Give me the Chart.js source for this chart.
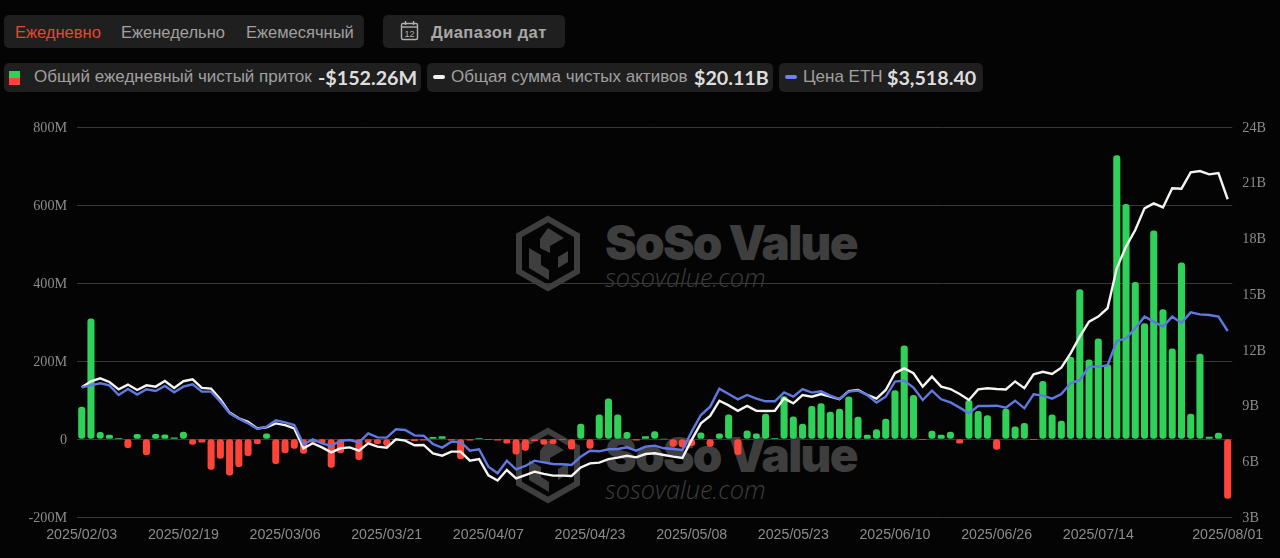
<!DOCTYPE html>
<html lang="ru">
<head>
<meta charset="utf-8">
<title>ETH ETF</title>
<script src="https://cdn.jsdelivr.net/npm/chart.js@4"></script>
<style>
    html, body { margin: 0; padding: 0; background: #040404; }
    body { position: relative; width: 1280px; height: 558px; overflow: hidden; font-family: "Liberation Sans", sans-serif; }
    .abs { position: absolute; white-space: nowrap; }
    .pill { position: absolute; background: #1f1f1f; border-radius: 5px; }
    .txt { position: absolute; white-space: nowrap; font-size: 16.5px; color: #a0a0a0; line-height: 18px; }
    .leg { font-size: 17px; }
    .val { position: absolute; white-space: nowrap; font-family: Lato, sans-serif; font-size: 19.7px; font-weight: 700; color: #dedede; line-height: 24px; }
    .dash { position: absolute; width: 12px; height: 4px; border-radius: 2px; }
    .mark { position: absolute; left: 0; top: 0; z-index: 0; }
    .brand { position: absolute; white-space: nowrap; font-family: Inter, sans-serif; font-weight: 900; font-size: 47.5px; letter-spacing: -1.7px; color: #3e3e3e; line-height: 50px; }
    .site { position: absolute; white-space: nowrap; font-family: "Open Sans", sans-serif; font-style: italic; font-weight: 300; font-size: 25.3px; color: #3e3e3e; line-height: 28px; }
    canvas { position: absolute; left: 0; top: 0; z-index: 1; }
</style>
</head>
<body>

<div class="pill" style="left:4px;top:15px;width:360px;height:33px"></div>
<span class="txt" style="left:15px;top:23px;color:#e5482b">Ежедневно</span>
<span class="txt" style="left:121px;top:23px">Еженедельно</span>
<span class="txt" style="left:246px;top:23px">Ежемесячный</span>

<div class="pill" style="left:383px;top:15px;width:182px;height:33px"></div>
<svg class="abs" style="left:400px;top:20px" width="20" height="22" viewBox="0 0 20 22">
    <rect x="1.5" y="3.5" width="16" height="16" rx="1.5" fill="none" stroke="#b0b0b0" stroke-width="1.4"/>
    <line x1="1.5" y1="7" x2="17.5" y2="7" stroke="#b0b0b0" stroke-width="1.4"/>
    <line x1="5.5" y1="1" x2="5.5" y2="5" stroke="#b0b0b0" stroke-width="1.4"/>
    <line x1="13.5" y1="1" x2="13.5" y2="5" stroke="#b0b0b0" stroke-width="1.4"/>
    <text x="9.5" y="17" font-size="9" text-anchor="middle" fill="#b0b0b0" font-family="Liberation Sans">12</text>
</svg>
<span class="txt" style="left:431px;top:23px;font-weight:700;letter-spacing:.43px;color:#a8a8a8">Диапазон дат</span>

<div class="pill" style="left:4px;top:63px;width:417px;height:29px"></div>
<div class="abs" style="left:9px;top:71px;width:11px;height:7px;background:#30d158"></div>
<div class="abs" style="left:9px;top:78px;width:11px;height:7px;background:#ff453a"></div>
<span class="txt leg" style="left:34px;top:68px">Общий ежедневный чистый приток</span>
<span class="val" style="left:318px;top:66px">-$152.26M</span>

<div class="pill" style="left:427px;top:63px;width:346px;height:29px"></div>
<div class="dash" style="left:433px;top:75px;background:#f2f2f2"></div>
<span class="txt leg" style="left:451px;top:68px">Общая сумма чистых активов</span>
<span class="val" style="left:694px;top:66px">$20.11B</span>

<div class="pill" style="left:779px;top:63px;width:204px;height:29px"></div>
<div class="dash" style="left:785px;top:75px;background:#6b83ee"></div>
<span class="txt leg" style="left:803px;top:68px">Цена ETH</span>
<span class="val" style="left:887px;top:66px">$3,518.40</span>

<!-- watermark sits under the chart -->
<svg class="mark" style="left:514px;top:215px" width="68" height="78" viewBox="0 0 68 78">
    <path d="M34 4 L63 20.5 L63 56.5 L34 73 L5 56.5 L5 20.5 Z" fill="none" stroke="#3e3e3e" stroke-width="6"/>
    <path d="M34 13 L50 23 L36 31 L36 38 L26 33 L26 24 Z M15 33 L27 40 L27 50 L35 55 L35 65 L15 53 Z M44 42 L54 36 L54 47 L44 53 Z" fill="#3e3e3e"/>
</svg>
<span class="brand" style="left:605px;top:218px">SoSo Value</span>
<span class="site" style="left:605px;top:263px">sosovalue.com</span>
<svg class="mark" style="left:514px;top:427px" width="68" height="78" viewBox="0 0 68 78">
    <path d="M34 4 L63 20.5 L63 56.5 L34 73 L5 56.5 L5 20.5 Z" fill="none" stroke="#3e3e3e" stroke-width="6"/>
    <path d="M34 13 L50 23 L36 31 L36 38 L26 33 L26 24 Z M15 33 L27 40 L27 50 L35 55 L35 65 L15 53 Z M44 42 L54 36 L54 47 L44 53 Z" fill="#3e3e3e"/>
</svg>
<span class="brand" style="left:605px;top:430px">SoSo Value</span>
<span class="site" style="left:605px;top:475px">sosovalue.com</span>

<canvas id="flowChart" width="1280" height="558"></canvas>

<script>
// Trading days shown on the x axis
const dates = [
    '2025/02/03','2025/02/04','2025/02/05','2025/02/06','2025/02/07','2025/02/10','2025/02/11','2025/02/12','2025/02/13','2025/02/14',
    '2025/02/18','2025/02/19','2025/02/20','2025/02/21','2025/02/24','2025/02/25','2025/02/26','2025/02/27','2025/02/28','2025/03/03',
    '2025/03/04','2025/03/05','2025/03/06','2025/03/07','2025/03/10','2025/03/11','2025/03/12','2025/03/13','2025/03/14','2025/03/17',
    '2025/03/18','2025/03/19','2025/03/20','2025/03/21','2025/03/24','2025/03/25','2025/03/26','2025/03/27','2025/03/28','2025/03/31',
    '2025/04/01','2025/04/02','2025/04/03','2025/04/04','2025/04/07','2025/04/08','2025/04/09','2025/04/10','2025/04/11','2025/04/14',
    '2025/04/15','2025/04/16','2025/04/17','2025/04/21','2025/04/22','2025/04/23','2025/04/24','2025/04/25','2025/04/28','2025/04/29',
    '2025/04/30','2025/05/01','2025/05/02','2025/05/05','2025/05/06','2025/05/07','2025/05/08','2025/05/09','2025/05/12','2025/05/13',
    '2025/05/14','2025/05/15','2025/05/16','2025/05/19','2025/05/20','2025/05/21','2025/05/22','2025/05/23','2025/05/27','2025/05/28',
    '2025/05/29','2025/05/30','2025/06/02','2025/06/03','2025/06/04','2025/06/05','2025/06/06','2025/06/09','2025/06/10','2025/06/11',
    '2025/06/12','2025/06/13','2025/06/16','2025/06/17','2025/06/18','2025/06/20','2025/06/23','2025/06/24','2025/06/25','2025/06/26',
    '2025/06/27','2025/06/30','2025/07/01','2025/07/02','2025/07/03','2025/07/07','2025/07/08','2025/07/09','2025/07/10','2025/07/11',
    '2025/07/14','2025/07/15','2025/07/16','2025/07/17','2025/07/18','2025/07/21','2025/07/22','2025/07/23','2025/07/24','2025/07/25',
    '2025/07/28','2025/07/29','2025/07/30','2025/07/31','2025/08/01'
];

const tickDates = ['2025/02/03','2025/02/19','2025/03/06','2025/03/21','2025/04/07','2025/04/23','2025/05/08',
    '2025/05/23','2025/06/10','2025/06/26','2025/07/14','2025/08/01'];

// Daily net inflow, $M
const netInflow = [
    82,308,17,10,1,-22,12,-41,12,11,
    3,18,-14,-8,-78,-50,-93,-71,-43,-12,
    13,-63,-36,-24,-37,-8,-10,-73,-36,-3,
    -53,-9,-12,-17,-1,-2,-4,-3,4,6,
    -3,-51,-3,2,-1,-3,-11,-39,-29,-4,
    -14,-12,-2,-26,38,-24,62,103,62,17,
    -3,6,19,0,-19,-21,-17,16,-19,13,
    62,-40,21,13,64,1,109,57,38,84,
    91,69,77,108,56,10,24,51,124,239,
    112,-2,20,10,18,-11,99,71,60,-27,
    77,31,40,-1,148,62,46,210,383,203,
    257,191,727,602,402,296,534,332,231,452,
    64,218,5,15,-152.26
];

// Total net assets, $B
const totalAssets = [
    9.98,10.31,10.47,10.27,9.87,10.13,9.84,10.09,10.02,10.32,
    9.95,10.31,10.41,9.95,9.91,9.34,8.62,8.31,8.13,7.77,
    7.83,8.04,7.95,7.77,6.70,6.97,6.75,6.48,6.70,6.75,
    6.57,6.97,6.79,6.73,7.18,7.11,6.86,6.88,6.43,6.30,
    6.52,6.52,6.03,6.12,5.24,4.96,5.53,5.08,5.26,5.44,
    5.32,5.23,5.23,5.21,5.67,5.89,5.93,6.12,6.20,6.30,
    6.21,6.39,6.43,6.34,6.25,6.18,7.15,8.04,8.44,9.26,
    9.01,8.72,8.98,8.72,8.71,8.72,9.39,9.12,9.57,9.48,
    9.62,9.48,9.34,9.78,9.84,9.57,9.37,9.84,10.74,11.00,
    10.74,10.02,10.56,10.02,9.89,9.62,9.30,9.87,9.93,9.89,
    9.87,10.30,9.94,10.68,10.82,10.70,11.04,11.81,12.71,13.52,
    13.79,14.24,16.39,17.56,18.45,19.62,19.89,19.67,20.70,20.68,
    21.56,21.63,21.45,21.52,20.11
];

// ETH price, $
const ethPrice = [
    2707,2736,2765,2736,2597,2683,2602,2679,2655,2727,
    2635,2717,2751,2645,2645,2501,2333,2256,2189,2107,
    2141,2232,2203,2165,1887,1959,1901,1863,1939,1949,
    1915,2045,1987,1983,2103,2093,2016,2011,1891,1839,
    1925,1920,1795,1815,1565,1469,1651,1527,1575,1651,
    1627,1603,1599,1589,1709,1795,1786,1815,1819,1843,
    1795,1853,1867,1829,1819,1805,2069,2309,2429,2688,
    2611,2535,2597,2544,2506,2506,2635,2573,2683,2631,
    2650,2587,2539,2645,2659,2597,2487,2573,2789,2803,
    2703,2525,2659,2535,2491,2415,2333,2439,2439,2443,
    2415,2515,2405,2607,2587,2544,2611,2765,2813,3005,
    3005,3024,3375,3413,3557,3725,3653,3581,3725,3634,
    3787,3758,3749,3725,3518.4
];

const axisGrey = '#8c8c8c';
const gridGrey = '#383838';

new Chart(document.getElementById('flowChart').getContext('2d'), {
    type: 'bar',
    data: {
        labels: dates,
        datasets: [
            {
                label: 'Общий ежедневный чистый приток',
                data: netInflow,
                yAxisID: 'y',
                order: 3,
                barThickness: 6.4,
                borderRadius: 3,
                borderSkipped: false,
                backgroundColor: ctx => ctx.raw < 0 ? '#ff453a' : '#30d158'
            },
            {
                type: 'line',
                label: 'Общая сумма чистых активов',
                data: totalAssets,
                yAxisID: 'assets',
                order: 2,
                borderColor: '#f4f4f0',
                borderWidth: 2.4,
                pointRadius: 0,
                tension: 0
            },
            {
                type: 'line',
                label: 'Цена ETH',
                data: ethPrice,
                yAxisID: 'price',
                order: 1,
                borderColor: '#6079e2',
                borderWidth: 2.4,
                pointRadius: 0,
                tension: 0
            }
        ]
    },
    options: {
        responsive: false,
        animation: false,
        layout: { padding: { top: 127, left: 0, right: 0, bottom: 0 } },
        plugins: { legend: { display: false }, tooltip: { enabled: false } },
        scales: {
            x: {
                grid: { display: false, drawTicks: false },
                border: { display: false },
                afterFit: scale => { scale.height = 41; },
                ticks: {
                    autoSkip: false,
                    maxRotation: 0,
                    padding: 10,
                    color: axisGrey,
                    font: { family: 'Liberation Sans', size: 14.2 },
                    callback: function(value) {
                        const label = this.getLabelForValue(value);
                        return tickDates.includes(label) ? label : '';
                    }
                }
            },
            y: {
                position: 'left',
                min: -200,
                max: 800,
                afterFit: scale => { scale.width = 77.1; },
                grid: { color: gridGrey, lineWidth: 1, drawTicks: false },
                border: { display: false },
                ticks: {
                    stepSize: 200,
                    padding: 10,
                    labelOffset: 1,
                    color: axisGrey,
                    font: { family: 'Liberation Serif', size: 14.2 },
                    callback: value => value === 0 ? '0' : value + 'M'
                }
            },
            assets: {
                position: 'right',
                min: 3,
                max: 24,
                afterFit: scale => { scale.width = 47.7; },
                grid: { display: false, drawTicks: false },
                border: { display: false },
                ticks: {
                    stepSize: 3,
                    padding: 10,
                    labelOffset: 1,
                    color: axisGrey,
                    font: { family: 'Liberation Serif', size: 14.2 },
                    callback: value => value + 'B'
                }
            },
            // price line has its own axis, not shown in the original
            price: {
                display: false,
                min: 840,
                max: 6456
            }
        }
    }
});
</script>
</body>
</html>
